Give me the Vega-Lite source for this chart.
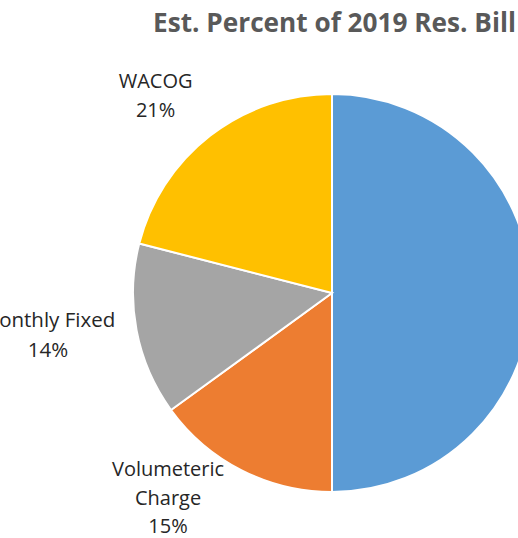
{
  "$schema": "https://vega.github.io/schema/vega-lite/v6.json",
  "width": 664,
  "height": 506,
  "autosize": {"type": "none"},
  "padding": {"top": 40, "left": 0, "right": 0, "bottom": 0},
  "background": "white",
  "title": {
    "text": "Est. Percent of 2019 Res. Bill",
    "anchor": "start",
    "frame": "group",
    "dx": 153,
    "dy": 23,
    "offset": 6,
    "font": "Open Sans",
    "fontSize": 26.2,
    "fontWeight": "bold",
    "color": "#595959"
  },
  "data": {
    "values": [
      {"category": "Distribution", "percent": 50, "idx": 1, "label": "Distribution\n50%"},
      {"category": "Volumeteric Charge", "percent": 15, "idx": 2, "label": "Volumeteric\nCharge\n15%"},
      {"category": "Monthly Fixed", "percent": 14, "idx": 3, "label": "Monthly Fixed\n14%"},
      {"category": "WACOG", "percent": 21, "idx": 4, "label": "WACOG\n21%"}
    ]
  },
  "encoding": {
    "theta": {"field": "percent", "type": "quantitative", "stack": true},
    "order": {"field": "idx", "type": "quantitative"}
  },
  "layer": [
    {
      "mark": {"type": "arc", "outerRadius": 199, "stroke": "white", "strokeWidth": 2},
      "encoding": {
        "color": {
          "field": "category",
          "type": "nominal",
          "scale": {
            "domain": ["Distribution", "Volumeteric Charge", "Monthly Fixed", "WACOG"],
            "range": ["#5B9BD5", "#ED7D31", "#A5A5A5", "#FFC000"]
          },
          "legend": null
        }
      }
    },
    {
      "mark": {"type": "text", "radius": 265, "dx": -14, "dy": -2, "lineBreak": "\n", "font": "Open Sans", "fontSize": 20, "lineHeight": 29.5, "color": "#262626", "align": "center", "baseline": "middle"},
      "encoding": {"text": {"condition": {"test": "datum.category === 'WACOG'", "field": "label"}, "value": ""}}
    },
    {
      "mark": {"type": "text", "radius": 280, "dx": -9, "dy": -24, "lineBreak": "\n", "font": "Open Sans", "fontSize": 20.5, "lineHeight": 29.5, "color": "#262626", "align": "center", "baseline": "middle"},
      "encoding": {"text": {"condition": {"test": "datum.category === 'Monthly Fixed'", "field": "label"}, "value": ""}}
    },
    {
      "mark": {"type": "text", "radius": 262, "dx": -45, "dy": -56, "lineBreak": "\n", "font": "Open Sans", "fontSize": 20, "lineHeight": 28.5, "color": "#262626", "align": "center", "baseline": "middle"},
      "encoding": {"text": {"condition": {"test": "datum.category === 'Volumeteric Charge'", "field": "label"}, "value": ""}}
    }
  ]
}
